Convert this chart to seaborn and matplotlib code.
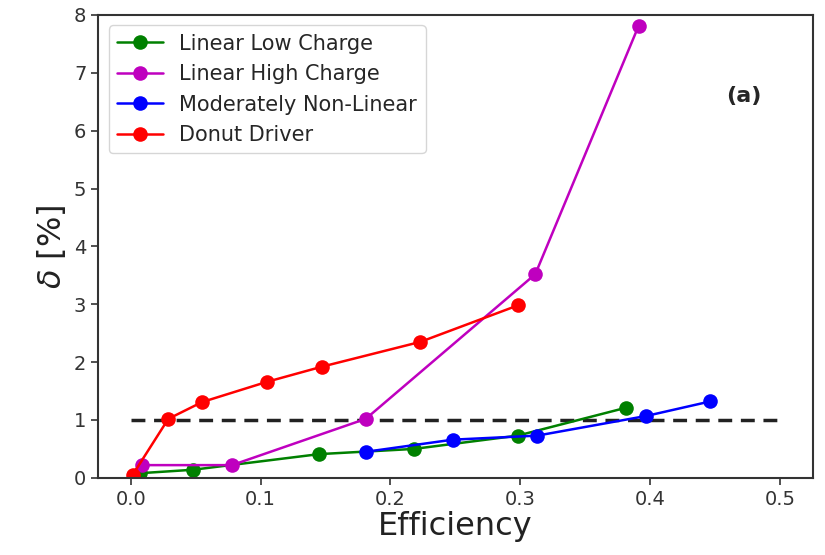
import pandas as pd
import seaborn as sns
import matplotlib.pyplot as plt

# Efficiency vs delta for each driver type
low_x = [0.007, 0.048, 0.145, 0.218, 0.298, 0.381]
low_y = [0.08, 0.14, 0.41, 0.50, 0.73, 1.21]

high_x = [0.0085, 0.078, 0.181, 0.3115, 0.391]
high_y = [0.22, 0.22, 1.02, 3.52, 7.81]

nonlin_x = [0.181, 0.248, 0.313, 0.397, 0.446]
nonlin_y = [0.45, 0.66, 0.73, 1.07, 1.32]

donut_x = [0.0015, 0.029, 0.055, 0.105, 0.147, 0.223, 0.298]
donut_y = [0.05, 1.02, 1.31, 1.66, 1.92, 2.35, 2.98]

names = ['Linear Low Charge', 'Linear High Charge', 'Moderately Non-Linear', 'Donut Driver']
colors = ['green', 'm', 'blue', 'red']
threshold = 1.0

frames = []
for name, xs, ys in zip(names,
                        [low_x, high_x, nonlin_x, donut_x],
                        [low_y, high_y, nonlin_y, donut_y]):
    frames.append(pd.DataFrame({'Efficiency': xs, 'delta': ys, 'Driver': name}))
df = pd.concat(frames, ignore_index=True)

sns.set_style("ticks")
plt.rcParams['font.family'] = ['DejaVu Sans']

fig, ax = plt.subplots(figsize=(8.25, 5.55), dpi=100)
fig.subplots_adjust(left=0.119, right=0.985, bottom=0.139, top=0.973)

sns.lineplot(data=df, x='Efficiency', y='delta', hue='Driver', hue_order=names,
             palette=dict(zip(names, colors)), sort=False, marker='o',
             markersize=10.5, markeredgewidth=0, linewidth=1.8, ax=ax)

# 1% threshold line
ax.plot([0, 0.5], [threshold, threshold], ls='--', color='#222222', lw=2.5,
        dashes=(4, 2.5), zorder=1)

ax.set_xlim(-0.025, 0.525)
ax.set_ylim(0, 8)
ax.set_xticks([0.0, 0.1, 0.2, 0.3, 0.4, 0.5])
ax.set_yticks(range(0, 9))
ax.tick_params(labelsize=14, length=5, width=1.2, colors='#333333')
for sp in ax.spines.values():
    sp.set_linewidth(1.5)
    sp.set_color('#333333')

ax.set_xlabel('Efficiency', fontsize=23, color='#222222', labelpad=2)
ax.set_ylabel(r'$\delta$ [%]', fontsize=23, color='#222222')

ax.text(0.472, 6.6, '(a)', fontsize=16, fontweight='bold', ha='center', va='center')

handles, labels = ax.get_legend_handles_labels()
ax.legend(handles, labels, loc='upper left', fontsize=15, frameon=True,
          borderaxespad=0.5, handlelength=2.2)

fig.savefig('out.png', dpi=100)
